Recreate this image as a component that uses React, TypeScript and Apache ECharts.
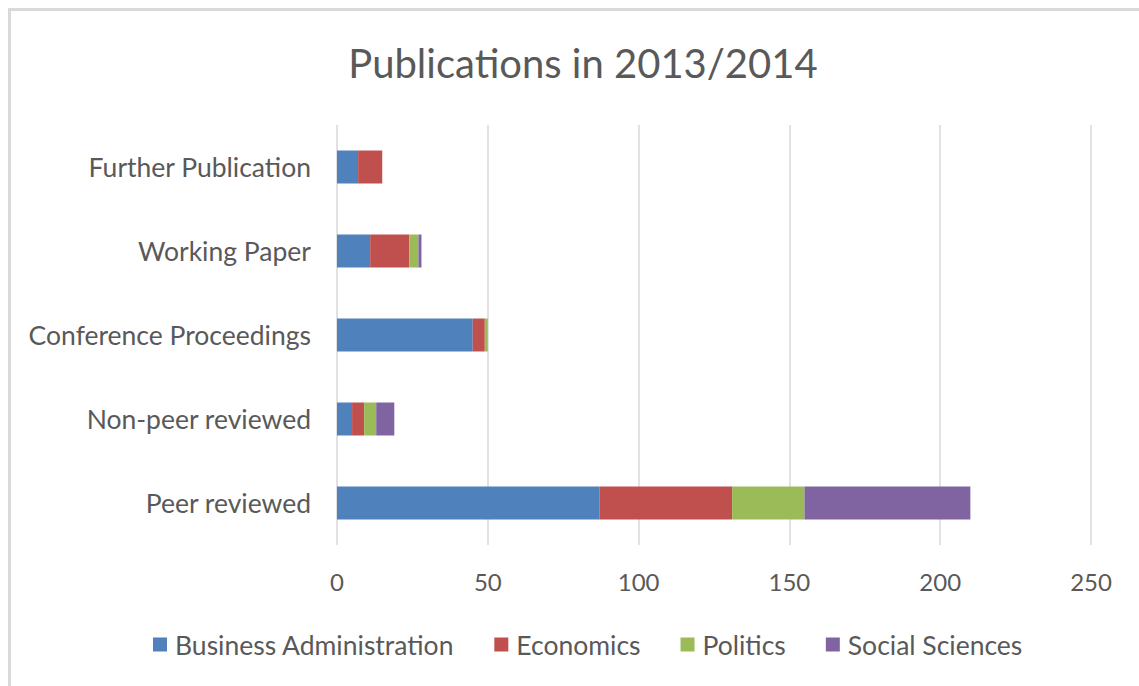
import React, { useEffect, useRef } from "react";
import * as echarts from "echarts";

const categories = [
  "Peer reviewed",
  "Non-peer reviewed",
  "Conference Proceedings",
  "Working Paper",
  "Further Publication",
];
const businessAdministration = [87, 5, 45, 11, 7];
const economics = [44, 4, 4, 13, 8];
const politics = [24, 4, 1, 3, 0];
const socialSciences = [55, 6, 0, 1, 0];
const seriesNames = ["Business Administration", "Economics", "Politics", "Social Sciences"];
const seriesColors = ["#4f81bd", "#c0504d", "#9bbb59", "#8064a2"];
const xTicks = [0, 50, 100, 150, 200, 250];

const FONT = "Lato";
const TEXT = "#595959";

export default function App() {
  const ref = useRef<HTMLDivElement>(null);
  useEffect(() => {
    if (!ref.current) return;
    const chart = echarts.init(ref.current, null, { renderer: "svg" });
    const values = [businessAdministration, economics, politics, socialSciences];
    chart.setOption({
      animation: false,
      backgroundColor: "#ffffff",
      title: {
        text: "Publications in 2013/2014",
        left: 578,
        textAlign: "center",
        top: 38,
        textStyle: { fontFamily: FONT, fontSize: 40, fontWeight: "normal", color: TEXT },
      },
      graphic: [
        { type: "rect", shape: { x: 8, y: 8, width: 1131, height: 3 }, style: { fill: "#d9d9d9" } },
        { type: "rect", shape: { x: 8, y: 8, width: 3, height: 678 }, style: { fill: "#d9d9d9" } },
      ],
      legend: {
        left: 148,
        top: 626,
        itemWidth: 14,
        itemHeight: 14,
        itemGap: 40,
        icon: "rect",
        data: seriesNames,
        textStyle: { fontFamily: FONT, fontSize: 26.5, color: TEXT, padding: [0, 0, 0, 3] },
      },
      grid: { left: 337, top: 125, width: 754, height: 420, outerBoundsMode: "none" },
      xAxis: {
        type: "value",
        min: xTicks[0],
        max: xTicks[xTicks.length - 1],
        interval: 50,
        axisLine: { show: false },
        axisTick: { show: false },
        splitLine: { show: true, lineStyle: { color: "#d9d9d9", width: 1.5 } },
        axisLabel: { margin: 24, fontFamily: FONT, fontSize: 24, color: TEXT },
      },
      yAxis: {
        type: "category",
        data: categories,
        axisLine: { show: false },
        axisTick: { show: false },
        axisLabel: { margin: 26, fontFamily: FONT, fontSize: 26.5, color: TEXT },
      },
      series: seriesNames.map((name, i) => ({
        name,
        type: "bar",
        stack: "total",
        barWidth: 33,
        data: values[i],
        itemStyle: { color: seriesColors[i] },
      })),
    });
    return () => chart.dispose();
  }, []);
  return (
    <div
      ref={ref}
      style={{ position: "fixed", left: 0, top: 0, width: 1139, height: 686 }}
    />
  );
}
